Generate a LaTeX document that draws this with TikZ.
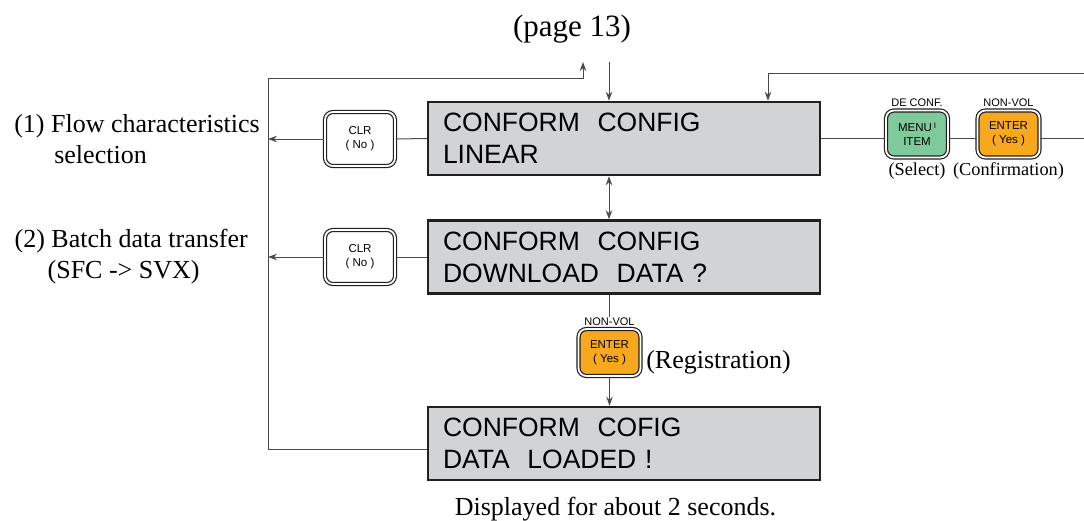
\documentclass[tikz,border=0pt]{standalone}
\usepackage{fontspec}
\setmainfont{Liberation Serif}
\setsansfont{Liberation Sans}
\usetikzlibrary{arrows.meta, positioning}
\definecolor{LCDgray}{HTML}{D1D3D4}
\definecolor{LCDedge}{HTML}{231F20}
\definecolor{KEYgreen}{HTML}{7FCA9B}
\definecolor{KEYorange}{HTML}{F8A81C}
\definecolor{WIREgray}{HTML}{4A4A4A}

\begin{document}
\begin{tikzpicture}[x=1pt, y=-1pt,
   >={Stealth[length=9pt, width=6.5pt]},
   lcd/.style={draw=LCDedge, line width=2.5pt, fill=LCDgray, minimum width=392pt,
      minimum height=73pt, text width=362pt, inner xsep=15pt, align=left,
      font=\sffamily\fontsize{26.5}{32}\selectfont},
   key/.style={draw=LCDedge, line width=1.2pt, double=white, double distance=1.8pt,
      rounded corners=8pt, minimum width=62pt, minimum height=47pt, inner sep=1pt,
      align=center, font=\sffamily\fontsize{11.5}{14}\selectfont},
   clrkey/.style={key, fill=white, minimum width=70pt, minimum height=54pt},
   tag/.style={inner sep=0pt, font=\sffamily\fontsize{11}{13}\selectfont},
   note/.style={inner sep=0pt, font=\fontsize{18.3}{22}\selectfont},
   txt/.style={inner sep=0pt, font=\fontsize{26}{31}\selectfont},
   wire/.style={draw=WIREgray, line width=1pt}]
   \useasboundingbox (0,0) rectangle (1084,520);

   % Display screens
   \node[lcd] (conf) at (624,138.5) {CONFORM~ CONFIG\\LINEAR};
   \node[lcd] (down) at (624,257) {CONFORM~ CONFIG\\DOWNLOAD~ DATA ?};
   \node[lcd] (done) at (624,443.5) {CONFORM~ COFIG\\DATA~ LOADED !};

   % Keys
   \node[clrkey] (clr1) at (360,139) {CLR\\( No )};
   \node[clrkey] (clr2) at (360,257) {CLR\\( No )};
   \node[key, fill=KEYgreen] (menu) at (917,134) {MENU\,\raisebox{3pt}{\fontsize{8}{8}\selectfont I}\\ITEM};
   \node[key, fill=KEYorange] (ent1) at (1008.5,134) {ENTER\\( Yes )};
   \node[key, fill=KEYorange] (ent2) at (609.5,352.5) {ENTER\\( Yes )};

   % Key captions
   \node[tag, above=3pt of menu] (dec) {DE CONF.};
   \node[tag, above=3pt of ent1] (nv1) {NON-VOL};
   \node[tag, above=3pt of ent2] (nv2) {NON-VOL};
   \node[note, below=4pt of menu] (sel) {(Select)};
   \node[note, below=4pt of ent1] (cnf) {(Confirmation)};
   \node[txt, right=5pt of ent2, yshift=-10pt] (reg) {(Registration)};

   % Texts
   \node[txt, font=\fontsize{31}{36}\selectfont] (page) at (572,29) {(page 13)};
   \node[txt] (secs) at (615.5,509) {Displayed for about 2 seconds.};

   % Free ends
   \coordinate (lft1) at (268,139);
   \coordinate (lft2) at (268,257);
   \coordinate (tl) at (268,78);
   \coordinate (bl) at (268,449);
   \coordinate (upt) at (583,62);
   \coordinate (dn) at (609,62);
   \coordinate (rtop) at (1084,73);
   \coordinate (rin) at (768,0);
   \coordinate (rgt1) at (1084,138.5);

   \node[txt, align=left, left=8pt of lft1] (flow) {(1) Flow characteristics\\\hspace*{40pt}selection};
   \node[txt, align=left, left=20pt of lft2] (batch) {(2) Batch data transfer\\\hspace*{33pt}(SFC -> SVX)};

   % Connectors
   \draw[wire] (conf.west) -- (clr1.east);
   \draw[wire, ->] (clr1.west) -- (lft1);
   \draw[wire] (down.west) -- (clr2.east);
   \draw[wire, ->] (clr2.west) -- (lft2);
   \draw[wire, ->] (bl -| done.west) -- (bl) -- (tl) -| (upt);
   \draw[wire, ->] (dn) -- (dn |- conf.north);
   \draw[wire, ->] (rtop) -| (rin |- conf.north);
   \draw[wire, <->] (conf.south -| dn) -- (down.north -| dn);
   \draw[wire] (down.south -| nv2.north) -- (nv2.north);
   \draw[wire, ->] (ent2.south) -- (done.north -| ent2.south);
   \draw[wire] (conf.east) -- (conf.east -| menu.west);
   \draw[wire] (conf.east -| menu.east) -- (conf.east -| ent1.west);
   \draw[wire] (conf.east -| ent1.east) -- (rgt1);
\end{tikzpicture}
\end{document}
